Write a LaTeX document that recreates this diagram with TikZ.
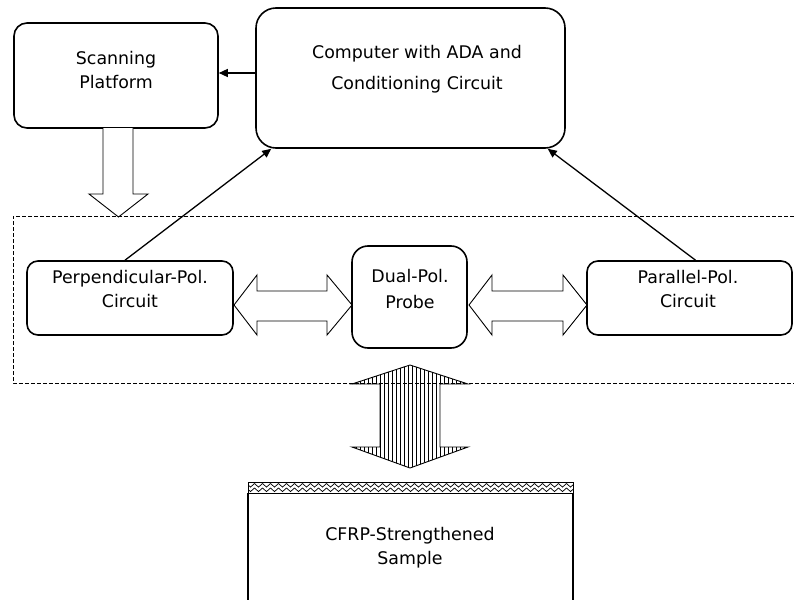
\documentclass[tikz,border=0pt]{standalone}
\usepackage{fontspec}
\setmainfont{DejaVu Sans}
\usetikzlibrary{arrows.meta,decorations.pathmorphing}
\begin{document}
\begin{tikzpicture}[x=1pt,y=-1pt,
  box/.style={draw,line width=1.6pt,inner sep=0pt},
  lbl/.style={inner sep=0pt,align=center,font=\fontsize{17.4}{24}\selectfont},
  conn/.style={line width=1.3pt,-{Triangle[length=9pt,width=8pt]}},
  hollow/.style={draw,line width=0.9pt,fill=white,line join=miter},
  dashbox/.style={line width=0.8pt,dash pattern=on 4pt off 2pt},
  wave/.style={line width=0.7pt,decorate,decoration={snake,segment length=8pt,amplitude=1.8pt}}]
\fill[white] (0,0) rectangle (794,599);
\useasboundingbox (0,0) rectangle (794,599);

% boxes
\node[box,rounded corners=13pt,minimum width=204pt,minimum height=105pt] (scan) at (116,75.5) {};
\node[box,rounded corners=20pt,minimum width=309pt,minimum height=140pt] (comp) at (410.5,78) {};
\node[box,rounded corners=11pt,minimum width=206pt,minimum height=74pt] (perp) at (130,298) {};
\node[box,rounded corners=11pt,minimum width=205pt,minimum height=74pt] (par) at (689.5,298) {};
\node[box,rounded corners=16pt,minimum width=115pt,minimum height=102pt] (probe) at (409.5,297) {};

% labels
\node[lbl] (scanT) at (116,70) {Scanning\\Platform};
\node[lbl,font=\fontsize{17.4}{31}\selectfont] (compT) at (417,69.5) {Computer with ADA and\\Conditioning Circuit};
\node[lbl] (perpT) at (130,289.5) {Perpendicular-Pol.\\Circuit};
\node[lbl] (parT) at (688,289.5) {Parallel-Pol.\\Circuit};
\node[lbl,font=\fontsize{17.4}{26}\selectfont] (probeT) at (410,289) {Dual-Pol.\\Probe};
\node[lbl] (sampT) at (410,548) {CFRP-Strengthened\\Sample};

% dashed region
\draw[dashbox] (800,216) -- (13,216) -- (13,383) -- (800,383);

% connectors
\draw[conn] ([yshift=5pt]comp.west) -- ([yshift=5pt]comp.west -| scan.east);
\draw[conn] ([xshift=-5pt]perp.north) -- ([xshift=16pt]comp.south west);
\draw[conn] ([xshift=6pt]par.north) -- ([xshift=-18pt]comp.south east);

% hollow arrow from scanning platform
\draw[hollow] (103,128) -- (103,194) -- (89,194) -- (118.5,217) -- (148,194) -- (133,194) -- (133,128);

% double arrows
\draw[hollow] (234,305) -- (257,275) -- (257,291) -- (327,291) -- (327,275) -- (352,305)
  -- (327,335) -- (327,321) -- (257,321) -- (257,335) -- cycle;
\draw[hollow] (469,305) -- (492,275) -- (492,291) -- (563,291) -- (563,275) -- (587,305)
  -- (563,335) -- (563,321) -- (492,321) -- (492,335) -- cycle;

% vertical striped double arrow
\begin{scope}
\clip (410,365) -- (468,384) -- (440,384) -- (440,447) -- (468,447) -- (410,468)
  -- (352,447) -- (380,447) -- (380,384) -- (352,384) -- cycle;
\foreach \x in {352,356,...,468} \draw[line width=0.8pt] (\x,360) -- (\x,472);
\end{scope}
\draw[line width=0.9pt,line join=miter] (410,365) -- (468,384) -- (440,384) -- (440,447) -- (468,447) -- (410,468)
  -- (352,447) -- (380,447) -- (380,384) -- (352,384) -- cycle;

% sample
\begin{scope}
\clip (248,482) rectangle (573,493);
\draw[wave] (244,485.3) -- (580,485.3);
\draw[wave] (244,489.8) -- (580,489.8);
\end{scope}
\draw[line width=1pt] (248,482) rectangle (573,493);
\draw[line width=1.3pt] (248,493) -- (248,602);
\draw[line width=1.3pt] (573,493) -- (573,602);
\end{tikzpicture}
\end{document}
